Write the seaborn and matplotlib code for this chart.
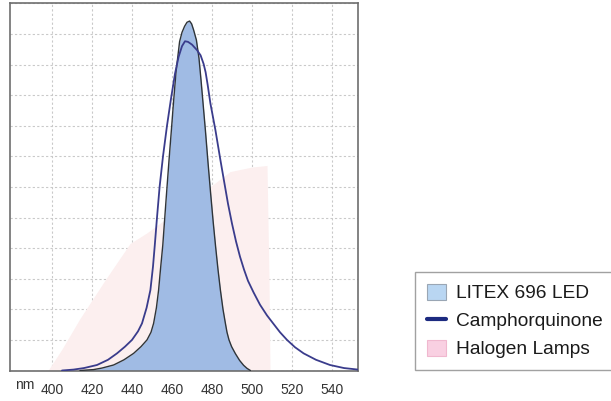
import pandas as pd
import seaborn as sns
import matplotlib.pyplot as plt
from matplotlib.patches import Patch
from matplotlib.lines import Line2D

# wavelength (nm) / relative intensity
led_nm = [414, 420.8, 425, 430.8, 436, 440.8, 444.5, 447.5, 449.5, 450.8, 452.2, 453.3,
          454.3, 455.4, 457, 458.6, 459.8, 460.8, 462, 463.8, 465, 466.3, 467.5, 468.8,
          469.8, 470.8, 472.2, 473.5, 474.5, 475.5, 476.7, 478, 479.3, 480.6, 481.8, 483,
          484.2, 485.5, 486.7, 487.5, 488.5, 489.8, 491.7, 493.8, 495.8, 497.5, 499.2]
led_val = [0, 0.03, 0.08, 0.18, 0.35, 0.56, 0.78, 1.0, 1.25, 1.54, 2.05, 2.63,
           3.35, 4.1, 5.55, 6.95, 7.95, 8.8, 9.75, 10.75, 11.05, 11.25, 11.38, 11.42,
           11.33, 11.13, 10.8, 10.2, 9.5, 8.75, 7.85, 6.8, 5.8, 4.85, 4.05, 3.3,
           2.63, 2.0, 1.54, 1.25, 1.0, 0.78, 0.55, 0.33, 0.17, 0.07, 0]

cq_nm = [405, 410.8, 416, 422.5, 428, 432.5, 436.5, 440, 443, 445, 447.3, 449.2, 450.5,
         451.4, 452.5, 453.8, 455.5, 457.5, 459.4, 461.5, 463.3, 465, 466.5, 468, 470,
         472.5, 474.3, 475.8, 476.8, 477.8, 479.2, 481.7, 484.2, 486, 488, 490, 492, 494,
         496, 498, 500.8, 504, 507.5, 510.8, 514, 517.5, 521.5, 525.8, 532, 539, 546, 553]
cq_val = [0, 0.03, 0.08, 0.18, 0.35, 0.56, 0.78, 1.0, 1.28, 1.54, 2.05, 2.63, 3.4,
          4.1, 5.0, 6.0, 7.0, 8.0, 8.84, 9.7, 10.25, 10.6, 10.76, 10.74, 10.65,
          10.47, 10.3, 10.02, 9.75, 9.35, 8.73, 7.86, 6.88, 6.2, 5.45, 4.8, 4.22, 3.72,
          3.3, 2.93, 2.55, 2.15, 1.8, 1.52, 1.25, 1.0, 0.76, 0.56, 0.35, 0.18, 0.08, 0.03]

halogen_nm = [398, 405, 414, 427, 439, 447.5, 460, 475, 489, 500, 507.5, 508.5, 509]
halogen_val = [0, 0.7, 1.7, 3.0, 4.15, 4.5, 5.1, 5.8, 6.5, 6.65, 6.7, 3.0, 0]

ticks = [400, 420, 440, 460, 480, 500, 520, 540]
labels = ["LITEX 696 LED", "Camphorquinone", "Halogen Lamps"]

led_fill = "#a0bbe4"
cq_color = "#3a3c8c"
halogen_fill = "#fcefef"

sns.set_theme(style="white")
plt.rcParams['font.family'] = ['Liberation Sans', 'DejaVu Sans']

fig = plt.figure(figsize=(6.11, 4.01), dpi=100)
ax = fig.add_axes([10 / 611, 30.5 / 401, 348 / 611, 367.2 / 401])

ax.fill_between(halogen_nm, halogen_val, color=halogen_fill, lw=0, zorder=1)
ax.fill_between(led_nm, led_val, color=led_fill, lw=0, zorder=2)
ax.plot(led_nm, led_val, color="#2f3438", lw=1.0, zorder=3)

cq = pd.DataFrame({"nm": cq_nm, "val": cq_val})
sns.lineplot(data=cq, x="nm", y="val", color=cq_color, lw=1.3, ax=ax, zorder=4)

ax.set_xlim(379, 553)
ax.set_ylim(0, 12)
ax.set_xticks(ticks)
ax.set_xticklabels([str(t) for t in ticks])
ax.set_yticks(range(0, 13))
ax.set_yticklabels([])
ax.set_xlabel("")
ax.set_ylabel("")
ax.tick_params(axis="x", length=0, pad=9, labelsize=10, labelcolor="#333333")
ax.tick_params(axis="y", length=0)
ax.grid(True, color="#c9c9c9", lw=0.8, ls=(0, (2, 2)))
ax.set_axisbelow(True)
for s in ax.spines.values():
    s.set_color("#6e6e6e")
    s.set_linewidth(1.2)

ax.text(386.5, -0.02, "nm", transform=ax.get_xaxis_transform(), ha="center", va="top",
        fontsize=10, color="#333333")

handles = [
    Patch(facecolor="#b9d6f2", edgecolor="#9aa6b4", lw=0.8),
    Line2D([0], [0], color="#1c2a80", lw=3),
    Patch(facecolor="#f9d0e2", edgecolor="#f0b8cf", lw=0.8),
]
leg = fig.legend(handles, labels, loc="lower left", bbox_to_anchor=(415 / 611, 31 / 401),
                 borderaxespad=0, fontsize=13.8, frameon=True, fancybox=False,
                 handlelength=1.0, handleheight=0.9, handletextpad=0.55,
                 labelspacing=0.5, borderpad=0.6)
leg.get_frame().set_edgecolor("#8a8a8a")
leg.get_frame().set_linewidth(1.0)
for t in leg.get_texts():
    t.set_color("#1a1a1a")

fig.savefig("out.png", dpi=100)
